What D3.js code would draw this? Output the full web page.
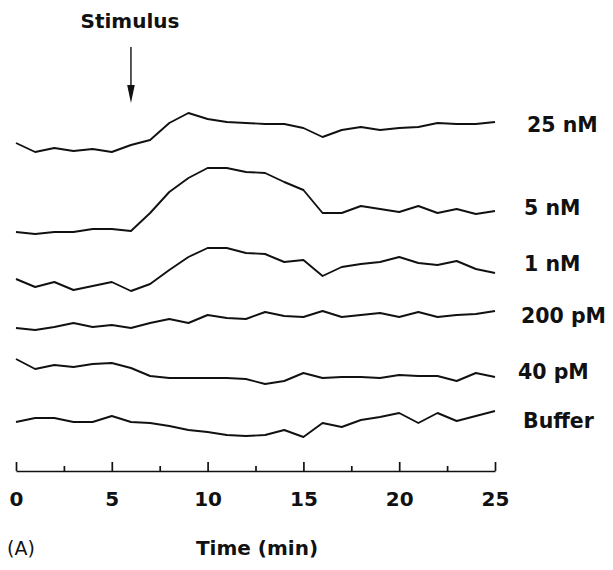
<!DOCTYPE html>
<html>
<head>
<meta charset="utf-8">
<script src="https://cdn.jsdelivr.net/npm/d3@7"></script>
<style>
  body { margin: 0; background: #fff; }
  svg { display: block; }
  text { font-family: "DejaVu Sans", sans-serif; fill: #111; }
</style>
</head>
<body>
<svg id="canvas"></svg>
<script>
// time points (min), one reading per minute
let minutes = d3.range(0, 26)

// trace names, top to bottom
let traceNames = ['25 nM', '5 nM', '1 nM', '200 pM', '40 pM', 'Buffer']

// signal per trace (arbitrary units, traces stacked with their own offset)
let nM25 = [337, 328, 332, 329, 331, 328, 335, 340, 357, 367, 361, 358, 357, 356, 356, 352, 343, 350, 353, 350, 352, 353, 357, 356, 356, 358]
let nM5 = [248, 246, 248, 248, 251, 251, 249, 267, 288, 302, 312, 312, 308, 307, 298, 290, 267, 267, 274, 271, 268, 274, 267, 271, 266, 269]
let nM1 = [201, 193, 198, 190, 194, 198, 189, 196, 210, 223, 232, 232, 227, 226, 218, 220, 204, 213, 216, 218, 223, 217, 215, 219, 211, 207]
let pM200 = [152, 150, 153, 157, 153, 155, 152, 157, 161, 157, 165, 162, 161, 168, 164, 163, 169, 163, 165, 167, 163, 168, 163, 165, 166, 169]
let pM40 = [121, 111, 115, 113, 116, 117, 112, 104, 102, 102, 102, 102, 101, 96, 99, 107, 102, 103, 103, 102, 105, 104, 104, 99, 107, 103]
let buffer = [58, 62, 62, 58, 58, 64, 58, 57, 54, 50, 48, 45, 44, 45, 50, 43, 57, 53, 60, 63, 67, 57, 67, 59, 64, 69]

let traces = [nM25, nM5, nM1, pM200, pM40, buffer]

let stimulusTime = 6
let majorTicks = [0, 5, 10, 15, 20, 25]
let minorTicks = [2.5, 7.5, 12.5, 17.5, 22.5]

let width = 613
let height = 570
let axisY = 471

// label placement (left x, middle y) next to each trace
let labelPos = [[527, 125], [524, 208], [524, 264], [521, 316], [518, 372], [523, 421]]

let canvas = d3.select('#canvas')
canvas.attr('width', width)
canvas.attr('height', height)

let xScale = d3.scaleLinear()
    .domain([0, 25])
    .range([16, 495])
let yScale = d3.scaleLinear()
    .domain([0, 480])
    .range([480, 0])

let drawTraces = () => {
    let line = d3.line()
        .x((d, i) => xScale(minutes[i]))
        .y((d) => yScale(d))
    canvas.selectAll('path.trace')
        .data(traces)
        .enter()
        .append('path')
        .attr('class', 'trace')
        .attr('d', (d) => line(d))
        .attr('fill', 'none')
        .attr('stroke', '#111')
        .attr('stroke-width', 1.9)
        .attr('stroke-linejoin', 'round')

    canvas.selectAll('text.name')
        .data(traceNames)
        .enter()
        .append('text')
        .attr('class', 'name')
        .attr('x', (d, i) => labelPos[i][0])
        .attr('y', (d, i) => labelPos[i][1])
        .attr('dy', '0.36em')
        .attr('font-size', 20.5)
        .attr('font-weight', 'bold')
        .text((d) => d)
}

let drawAxes = () => {
    let majorAxis = d3.axisTop(xScale)
        .tickValues(majorTicks)
        .tickSize(9)
        .tickSizeOuter(0)
        .tickFormat('')
    let minorAxis = d3.axisTop(xScale)
        .tickValues(minorTicks)
        .tickSize(5)
        .tickSizeOuter(0)
        .tickFormat('')
    let labelAxis = d3.axisBottom(xScale)
        .tickValues(majorTicks)
        .tickSize(0)
        .tickPadding(21)
        .tickFormat(d3.format('d'))

    canvas.append('g')
        .attr('transform', 'translate(0,' + axisY + ')')
        .call(majorAxis)
    let gMinor = canvas.append('g')
        .attr('transform', 'translate(0,' + axisY + ')')
        .call(minorAxis)
    gMinor.select('.domain').remove()
    let gLabels = canvas.append('g')
        .attr('transform', 'translate(0,' + axisY + ')')
        .call(labelAxis)
    gLabels.select('.domain').remove()

    canvas.selectAll('.domain, .tick line')
        .attr('stroke', '#111')
        .attr('stroke-width', 1.7)
    gLabels.selectAll('text')
        .attr('font-family', '"DejaVu Sans", sans-serif')
        .attr('font-size', 20)
        .attr('font-weight', 'bold')
        .attr('fill', '#111')

    canvas.append('text')
        .attr('x', 257)
        .attr('y', 555)
        .attr('text-anchor', 'middle')
        .attr('font-size', 20)
        .attr('font-weight', 'bold')
        .text('Time (min)')
    canvas.append('text')
        .attr('x', 7)
        .attr('y', 555)
        .attr('font-size', 19)
        .text('(A)')
}

let drawStimulus = () => {
    let sx = xScale(stimulusTime)
    canvas.append('text')
        .attr('x', sx - 1)
        .attr('y', 28)
        .attr('text-anchor', 'middle')
        .attr('font-size', 20)
        .attr('font-weight', 'bold')
        .text('Stimulus')
    canvas.append('line')
        .attr('x1', sx)
        .attr('x2', sx)
        .attr('y1', 47)
        .attr('y2', 88)
        .attr('stroke', '#111')
        .attr('stroke-width', 1.4)
    canvas.append('path')
        .attr('d', 'M' + (sx - 3.8) + ',85 L' + (sx + 3.8) + ',85 L' + sx + ',103 Z')
        .attr('fill', '#111')
}

drawTraces()
drawAxes()
drawStimulus()
</script>
</body>
</html>
